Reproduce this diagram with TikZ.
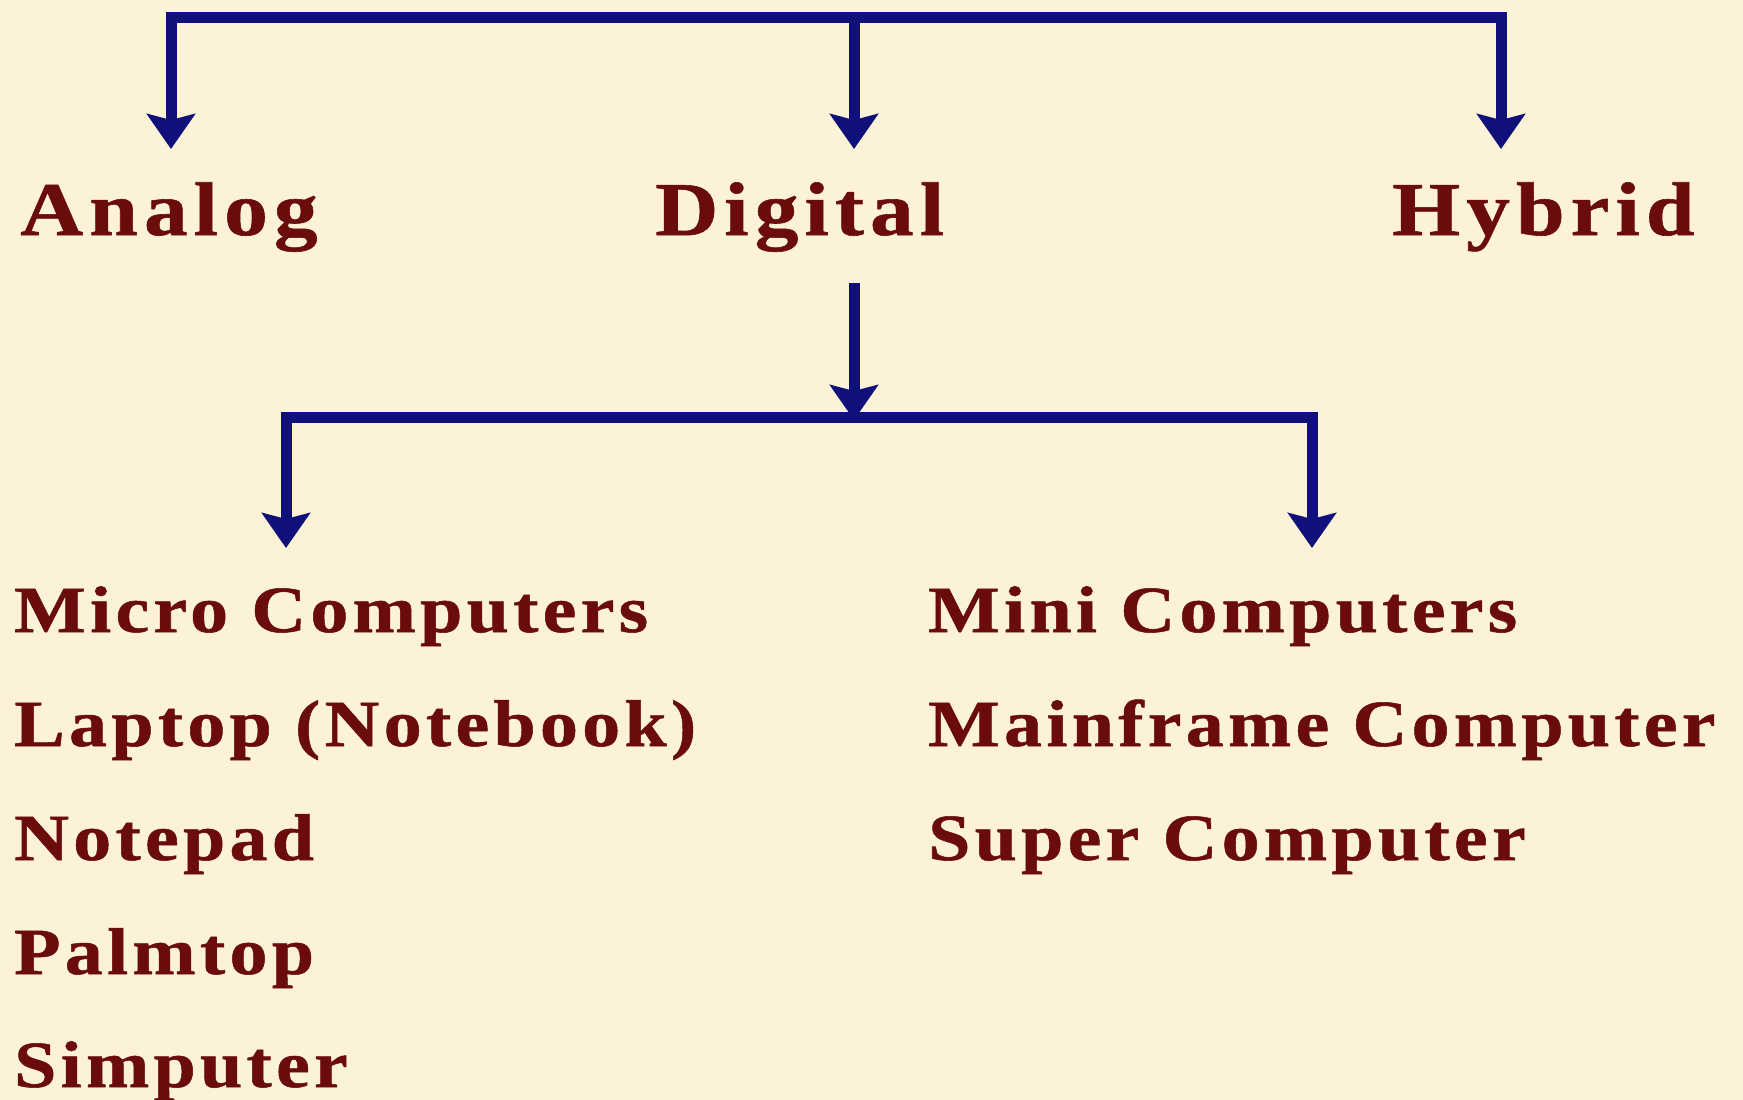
\documentclass[tikz,border=0pt]{standalone}
\usepackage{fontspec}
\usetikzlibrary{arrows.meta}
\newfontfamily\headfont[FakeStretch=1.15,LetterSpace=8,FakeBold=0.8]{Liberation Serif}
\newfontfamily\itemfont[FakeStretch=1.15,LetterSpace=6.5,FakeBold=0.8]{Liberation Serif}
\definecolor{paper}{HTML}{FCF2D8}
\definecolor{inkred}{HTML}{6A0C0C}
\definecolor{navyline}{HTML}{10107A}
\begin{document}
\begin{tikzpicture}[x=1pt,y=-1pt,
  link/.style={draw=navyline,line width=11pt,line join=miter,
    -{Stealth[length=35pt,width=48pt,inset=6pt]}},
  head/.style={anchor=base west,inner sep=0pt,text=inkred,
    font=\headfont\bfseries\fontsize{76}{76}\selectfont},
  item/.style={anchor=base west,inner sep=0pt,text=inkred,
    font=\itemfont\bfseries\fontsize{66}{66}\selectfont}]
  % page
  \fill[paper] (0,0) rectangle (1743,1100);
  \useasboundingbox (0,0) rectangle (1743,1100);

  % first level
  \node[head] (analog)  at (20,235)   {Analog};
  \node[head] (digital) at (655,235)  {Digital};
  \node[head] (hybrid)  at (1392,235) {Hybrid};

  % second level
  \node[item] (micro)   at (14,632)  {Micro Computers};
  \node[item] (laptop)  at (14,746)  {Laptop (Notebook)};
  \node[item] (notepad) at (14,860)  {Notepad};
  \node[item] (palm)    at (14,974)  {Palmtop};
  \node[item] (simp)    at (14,1087) {Simputer};
  \node[item] (mini)    at (928,632) {Mini Computers};
  \node[item] (main)    at (928,746) {Mainframe Computer};
  \node[item] (super)   at (928,860) {Super Computer};

  % connector points
  \coordinate (hub)   at (854,17);
  \coordinate (tipA)  at (171,149);
  \coordinate (tipD)  at (854,149);
  \coordinate (tipH)  at (1501,149);
  \coordinate (dsrc)  at (854,283);
  \coordinate (split) at (854,417);
  \coordinate (tipL)  at (286,548);
  \coordinate (tipR)  at (1312,548);

  % top branch
  \draw[link] (hub) -| (tipA);
  \draw[link] (hub) -| (tipH);
  \draw[link] (hub) -- (tipD);

  % digital branch
  \draw[link] (dsrc) -- ([yshift=-3pt]split);
  \draw[link] (split) -| (tipL);
  \draw[link] (split) -| (tipR);
\end{tikzpicture}
\end{document}
